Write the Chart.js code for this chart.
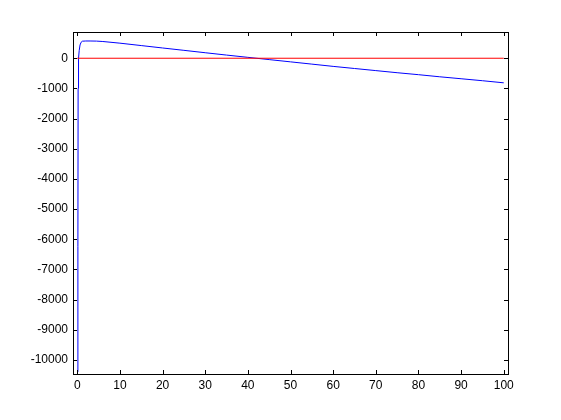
<!DOCTYPE html>
<html>
<head>
<meta charset="utf-8">
<script src="https://cdn.jsdelivr.net/npm/chart.js@4/dist/chart.umd.min.js"></script>
<style>
    html, body { margin: 0; padding: 0; background: #ffffff; }
    #plot { display: block; }
</style>
</head>
<body>
<canvas id="plot" width="561" height="420"></canvas>
<script>
// curve
const curveX = [0, 0.15, 0.2, 0.3, 0.45, 0.65, 0.9, 1.2, 2, 3, 4.5, 6, 10, 15, 20, 25, 30, 35, 40, 45, 50, 55, 60, 65, 70, 75, 80, 85, 90, 95, 100];
const curveY = [-10400, -6250, -1000, 0, 250, 440, 530, 565, 572, 572, 568, 555, 500, 420, 340, 262, 183, 105, 30, -45, -120, -195, -270, -340, -410, -480, -545, -615, -680, -745, -815];

// horizontal reference line
const zeroX = [0, 100];
const zeroY = [0, 0];

// axes
const xTicks = [0, 10, 20, 30, 40, 50, 60, 70, 80, 90, 100];
const yTicks = [0, -1000, -2000, -3000, -4000, -5000, -6000, -7000, -8000, -9000, -10000];

function toPoints(xs, ys) {
    return xs.map((x, i) => ({ x: x, y: ys[i] }));
}

// box + inward ticks on all four sides, matlab style
const boxPlugin = {
    id: "box",
    afterDraw(chart) {
        const ctx = chart.ctx;
        const a = chart.chartArea;
        const xs = chart.scales.x;
        const ys = chart.scales.y;
        const len = 4;
        ctx.save();
        ctx.strokeStyle = "#000000";
        ctx.lineWidth = 1;
        ctx.beginPath();
        xTicks.forEach((v) => {
            let px = Math.round(xs.getPixelForValue(v)) + 0.5;
            ctx.moveTo(px, a.bottom);
            ctx.lineTo(px, a.bottom - len);
            ctx.moveTo(px, a.top);
            ctx.lineTo(px, a.top + len);
        });
        yTicks.forEach((v) => {
            let py = Math.round(ys.getPixelForValue(v)) + 0.5;
            ctx.moveTo(a.left, py);
            ctx.lineTo(a.left + len, py);
            ctx.moveTo(a.right, py);
            ctx.lineTo(a.right - len, py);
        });
        ctx.stroke();
        ctx.strokeRect(Math.round(a.left) + 0.5, Math.round(a.top) + 0.5,
            Math.round(a.right - a.left), Math.round(a.bottom - a.top));
        ctx.restore();
    }
};

let ctx = document.getElementById("plot").getContext("2d");

new Chart(ctx, {
    type: "scatter",
    data: {
        datasets: [
            {
                data: toPoints(zeroX, zeroY),
                showLine: true,
                borderColor: "#ff0000",
                borderWidth: 1,
                pointRadius: 0,
                tension: 0
            },
            {
                data: toPoints(curveX, curveY),
                showLine: true,
                borderColor: "#0000ff",
                borderWidth: 1,
                pointRadius: 0,
                tension: 0
            }
        ]
    },
    options: {
        responsive: false,
        animation: false,
        events: [],
        layout: { padding: { left: 0, top: 32, right: 53, bottom: 0 } },
        plugins: {
            legend: { display: false },
            tooltip: { enabled: false }
        },
        scales: {
            x: {
                type: "linear",
                min: -1,
                max: 101,
                grid: { display: false, drawTicks: false },
                border: { display: false },
                afterBuildTicks(scale) {
                    scale.ticks = xTicks.map((v) => ({ value: v }));
                },
                ticks: {
                    maxRotation: 0,
                    autoSkip: false,
                    padding: 4,
                    color: "#000000",
                    font: { family: "Liberation Sans", size: 12 },
                    callback: (v) => String(v)
                },
                afterFit(scale) { scale.height = 46; }
            },
            y: {
                type: "linear",
                min: -10470,
                max: 870,
                grid: { display: false, drawTicks: false },
                border: { display: false },
                afterBuildTicks(scale) {
                    scale.ticks = yTicks.map((v) => ({ value: v }));
                },
                ticks: {
                    autoSkip: false,
                    padding: 5,
                    color: "#000000",
                    font: { family: "Liberation Sans", size: 12 },
                    callback: (v) => String(v)
                },
                afterFit(scale) { scale.width = 73; }
            }
        }
    },
    plugins: [boxPlugin]
});
</script>
</body>
</html>
